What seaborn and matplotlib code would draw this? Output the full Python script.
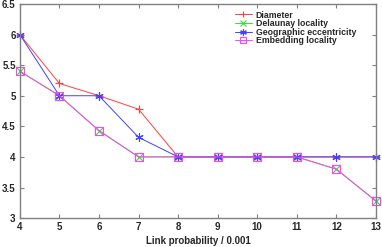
import pandas as pd
import matplotlib
matplotlib.use('Agg')
import matplotlib.pyplot as plt
import seaborn as sns

# Data
link_prob = [4, 5, 6, 7, 8, 9, 10, 11, 12, 13]
diameter = [6.0, 5.2, 5.0, 4.78, 4.0, 4.0, 4.0, 4.0, 4.0, 4.0]
delaunay = [5.4, 5.0, 4.43, 4.0, 4.0, 4.0, 4.0, 4.0, 3.8, 3.28]
geographic = [6.0, 5.0, 5.0, 4.32, 4.0, 4.0, 4.0, 4.0, 4.0, 4.0]
embedding = [5.4, 5.0, 4.43, 4.0, 4.0, 4.0, 4.0, 4.0, 3.8, 3.28]

series_names = ['Diameter', 'Delaunay locality', 'Geographic eccentricity', 'Embedding locality']
series_vals = [diameter, delaunay, geographic, embedding]

rows = []
for name, vals in zip(series_names, series_vals):
    for x, y in zip(link_prob, vals):
        rows.append({'x': x, 'y': y, 'series': name})
df = pd.DataFrame(rows)

sns.set_style('ticks')
plt.rcParams['font.family'] = ['Liberation Sans Narrow', 'Liberation Sans', 'DejaVu Sans']
plt.rcParams['font.weight'] = 'bold'

colors = {'Diameter': '#ff4040', 'Delaunay locality': '#30e030',
          'Geographic eccentricity': '#4040ff', 'Embedding locality': '#ff40ff'}
markers = {'Diameter': '+', 'Delaunay locality': 'x',
           'Geographic eccentricity': (6, 2, 0), 'Embedding locality': 's'}

fig = plt.figure(figsize=(3.82, 2.47), dpi=100)
ax = fig.add_axes([0.052, 0.117, 0.932, 0.867])

for name in series_names:
    sub = df[df['series'] == name]
    sns.lineplot(data=sub, x='x', y='y', ax=ax, color=colors[name], label=name,
                 marker=markers[name], markersize=6, linewidth=0.7,
                 markerfacecolor='none', markeredgecolor=colors[name],
                 markeredgewidth=0.8, clip_on=False)

ax.set_xlim(4, 13)
ax.set_ylim(3, 6.5)
ax.set_xticks(link_prob)
ax.set_xticklabels([str(v) for v in link_prob], fontweight='bold')
ax.set_yticks([3, 3.5, 4, 4.5, 5, 5.5, 6, 6.5])
ax.set_yticklabels(['3', '3.5', '4', '4.5', '5', '5.5', '6', '6.5'], fontweight='bold')
ax.tick_params(direction='in', top=True, right=True, labelsize=7, length=3,
               color='#808080', pad=3)
for sp in ax.spines.values():
    sp.set_color('#808080')
    sp.set_linewidth(1.0)
ax.set_xlabel('Link probability / 0.001', fontsize=7, fontweight='bold', labelpad=3)
ax.set_ylabel('')

leg = ax.legend(loc='upper left', bbox_to_anchor=(0.585, 1.0), frameon=False,
                prop={'size': 6.3, 'weight': 'bold'}, handlelength=2.0,
                handletextpad=0.4, labelspacing=-0.05, borderaxespad=0.35,
                markerscale=0.8)

fig.savefig('out.png', dpi=100)
